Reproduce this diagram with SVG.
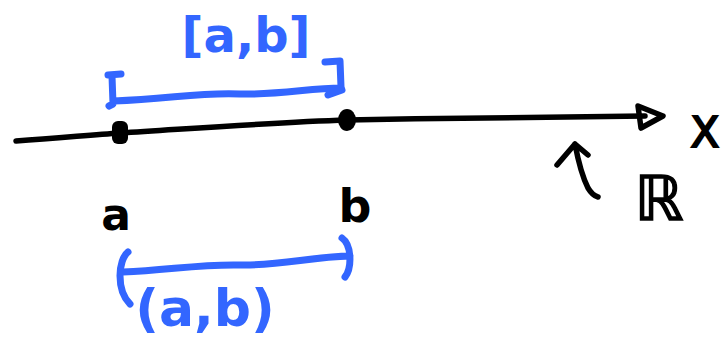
<svg xmlns="http://www.w3.org/2000/svg" width="727" height="338" viewBox="0 0 727 338">
<style>
.blk{fill:none;stroke:#000;stroke-width:5.5;stroke-linecap:round;stroke-linejoin:round}
.blu{fill:none;stroke:#3366FF;stroke-width:7;stroke-linecap:round;stroke-linejoin:round}
.tb{font-family:"DejaVu Sans",sans-serif;font-weight:bold;fill:#3366FF}
.tk{font-family:"DejaVu Sans",sans-serif;font-weight:bold;fill:#000}
</style>
<rect width="727" height="338" fill="#fff"/>
<g id="connectors">
  <path id="axis" class="blk" d="M16,141 C60,138 90,135 120,133 C200,128 280,122 347,120 C450,118 560,117 645,116"/>
  <path id="arrowhead" class="blk" d="M638,106 L663,116 L641,128 Z" fill="#fff"/>
  <path id="r-arrow" class="blk" d="M557,165 L575,144 L588,155 M575,144 C578,160 582,176 588,188 C591,193 594,196 598,197"/>
</g>
<g id="point-a"><rect x="112" y="121" width="16" height="23" rx="6" fill="#000"/></g>
<g id="point-b"><ellipse cx="347" cy="120" rx="9" ry="11" fill="#000"/></g>
<g id="label-a"><text class="tk" x="116" y="230" font-size="44" text-anchor="middle">a</text></g>
<g id="label-b"><text class="tk" x="355" y="222" font-size="46" text-anchor="middle">b</text></g>
<g id="label-x"><text class="tk" x="705" y="147" font-size="42" text-anchor="middle" style="font-weight:normal" stroke="#000" stroke-width="2">X</text></g>
<g id="label-r"><text class="tk" x="659" y="220" font-size="62" text-anchor="middle" stroke="#000" stroke-width="1.5" style="font-weight:normal">ℝ</text></g>
<g id="closed-interval">
  <path class="blu" d="M108,75 L121,74 M112,76 L113,104 L109,106 M114,101 C170,99 200,92 240,94 C280,95 310,88 341,88 M325,62 L340,61 L341,87 L342,90 L328,95"/>
  <text class="tb" x="246" y="52" font-size="48" text-anchor="middle">[a,b]</text>
</g>
<g id="open-interval">
  <path class="blu" d="M128,252 C118,260 116,290 130,304 M123,272 C170,270 200,264 240,265 C280,266 310,257 350,256 M342,238 C352,245 352,268 345,277"/>
  <text class="tb" x="205" y="326" font-size="52" text-anchor="middle">(a,b)</text>
</g>
</svg>
